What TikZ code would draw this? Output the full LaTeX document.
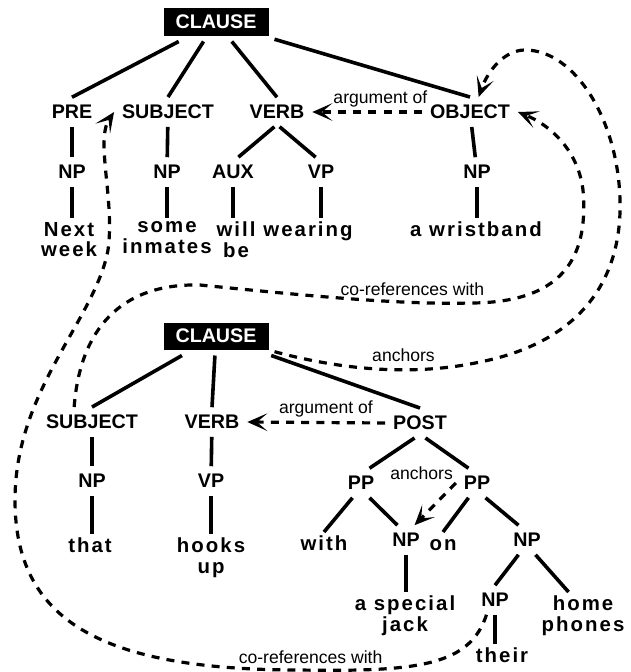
\documentclass[tikz,border=0pt]{standalone}
\usepackage{fontspec}
\setmainfont{Liberation Sans}
\newfontfamily\spacedfont[LetterSpace=10]{Liberation Sans}
\usetikzlibrary{arrows.meta}

\begin{document}
\begin{tikzpicture}[x=0.25mm,y=-0.25mm]

\tikzset{
  phrase/.style = {font=\bfseries\fontsize{14}{16}\selectfont, inner sep=1mm, outer sep=1mm},
  root/.style   = {phrase, fill=black, text=white, minimum width=26.25mm,
                   minimum height=6.75mm, outer sep=1.5mm},
  word/.style   = {font=\spacedfont\bfseries\fontsize{14.5}{14.9}\selectfont, align=center,
                   anchor=north, inner sep=0pt, outer sep=1mm, execute at begin node=\strut},
  branch/.style = {line width=0.9mm},
  rel/.style    = {-{Stealth[length=5mm,width=4.4mm,inset=2.6mm]}, line width=0.8mm,
                   dash pattern=on 2mm off 1.8mm},
  lbl/.style    = {font=\fontsize{12.5}{14}\selectfont, inner sep=1pt},
}

\useasboundingbox (0,0) rectangle (630,672);

\node[root] (clause1) at (216,22) {CLAUSE};
\node[phrase] (pre) at (72,112) {PRE};
\node[phrase] (subj1) at (168,112) {SUBJECT};
\node[phrase] (verb1) at (277,112) {VERB};
\node[phrase] (obj) at (470,112) {OBJECT};
\node[phrase] (np1) at (72,172) {NP};
\node[phrase] (np2) at (167,172) {NP};
\node[phrase] (aux) at (233,172) {AUX};
\node[phrase] (vp1) at (321,172) {VP};
\node[phrase] (np3) at (477,172) {NP};
\node[word] (w-next) at (69,218) {Next\\week};
\node[word] (w-some) at (167,218) {some\\inmates};
\node[word] (w-will) at (236,218) {will\\be};
\node[word] (w-wear) at (308,218) {wearing};
\node[word] (w-wrist) at (476,218) {a wristband};

\draw[branch] (clause1) -- (pre.north);
\draw[branch] (clause1) -- (subj1.north);
\draw[branch] (clause1) -- (verb1.north);
\draw[branch] (clause1) -- (obj.north);
\draw[branch] (pre) -- (np1);
\draw[branch] (subj1) -- (np2);
\draw[branch] (verb1.-100) -- (aux.70);
\draw[branch] (verb1.-80) -- (vp1.110);
\draw[branch] (obj) -- (np3);
\draw[branch] (np1) -- (np1 |- w-next.north);
\draw[branch] (np2) -- (np2 |- w-some.north);
\draw[branch] (aux) -- (aux |- w-will.north);
\draw[branch] (vp1) -- (vp1 |- w-wear.north);
\draw[branch] (np3) -- (np3 |- w-wrist.north);

\node[root] (clause2) at (216,336) {CLAUSE};
\node[phrase] (subj2) at (92,422) {SUBJECT};
\node[phrase] (verb2) at (212,422) {VERB};
\node[phrase] (post) at (420,423) {POST};
\node[phrase] (np4) at (92,481) {NP};
\node[phrase] (vp2) at (211,481) {VP};
\node[phrase] (pp1) at (361,483) {PP};
\node[phrase] (pp2) at (477,483) {PP};
\node[phrase] (np5) at (406,540) {NP};
\node[phrase] (np6) at (527,540) {NP};
\node[phrase] (np7) at (495,600) {NP};
\node[word] (w-that) at (90,534) {that};
\node[word] (w-hooks) at (211,534) {hooks\\up};
\node[word] (w-with) at (324,532) {with};
\node[word] (w-on) at (443,532) {on};
\node[word] (w-jack) at (405,592) {a special\\jack};
\node[word] (w-home) at (583,592) {home\\phones};
\node[word] (w-their) at (502,644) {their};

\draw[branch] (clause2) -- (subj2.north);
\draw[branch] (clause2) -- (verb2.north);
\draw[branch] (clause2) -- (post.north);
\draw[branch] (subj2) -- (np4);
\draw[branch] (verb2) -- (vp2);
\draw[branch] (np4) -- (np4 |- w-that.north);
\draw[branch] (vp2) -- (vp2 |- w-hooks.north);
\draw[branch] (post.-110) -- (pp1.60);
\draw[branch] (post.-70) -- (pp2.120);
\draw[branch] (pp1.-120) -- (w-with.north);
\draw[branch] (pp1.-60) -- (np5.120);
\draw[branch] (pp2.-120) -- (w-on.north);
\draw[branch] (pp2.-60) -- (np6.120);
\draw[branch] (np5) -- (np5 |- w-jack.north);
\draw[branch] (np6.-120) -- (np7.north);
\draw[branch] (np6.-60) -- (w-home.120);
\draw[branch] (np7) -- (np7 |- w-their.north);

\draw[rel] (obj.west) -- node[lbl, pos=0.38, above=0.5mm] {argument of} (verb1.east);
\draw[rel] (post.west) -- node[lbl, pos=0.43, above=0.5mm] {argument of} (verb2.east);
\draw[rel] (pp2.west) -- node[lbl, at start, anchor=south east] {anchors} (np5.60);

\draw[rel] (np7.-120) .. controls (470,665) and (420,672) .. node[lbl, pos=0.97, above=0.8mm] {co-references with} (300,670)
  .. controls (100,670) and (15,620) .. (15,500)
  .. controls (15,390) and (95,320) .. (108,250)
  .. controls (115,200) and (95,140) .. (subj1.west);
\draw[rel] (subj2.140) .. controls (80,330) and (120,283) .. (200,285)
  .. controls (300,295) and (400,305) .. node[lbl, pos=0.75, above=1mm] {co-references with} (470,303)
  .. controls (570,303) and (588,250) .. (583,190)
  .. controls (578,150) and (550,125) .. (obj.east);
\draw[rel] (clause2.-15) .. controls (350,372) and (420,375) .. node[lbl, pos=0.6, above=1.2mm] {anchors} (480,362)
  .. controls (590,340) and (622,270) .. (620,200)
  .. controls (618,120) and (575,50) .. (525,50)
  .. controls (505,50) and (488,70) .. (obj.60);
\end{tikzpicture}
\end{document}
